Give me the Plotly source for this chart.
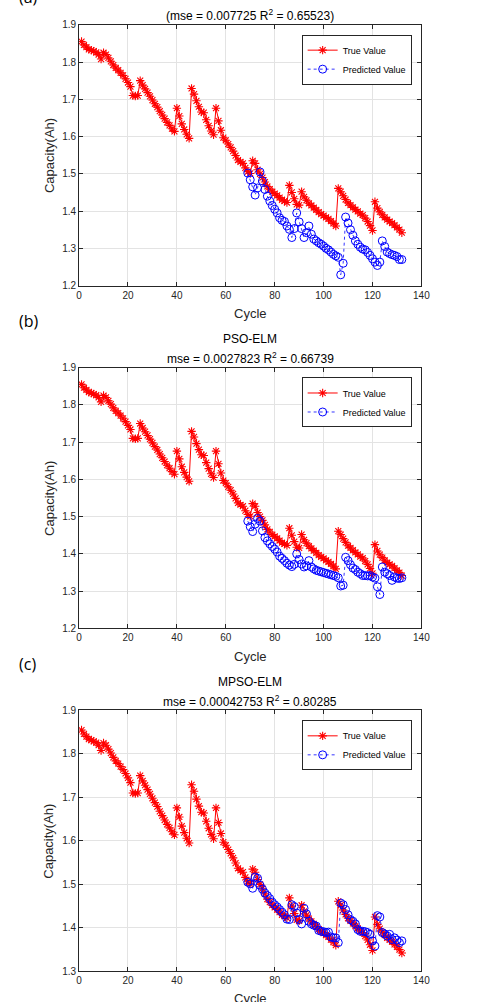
import plotly.graph_objects as go

cycles = list(range(1, 133))
true_capacity = [
    1.855, 1.846, 1.840, 1.834, 1.832, 1.829, 1.826, 1.820, 1.808, 1.825,
    1.820, 1.811, 1.802, 1.792, 1.784, 1.778, 1.771, 1.764, 1.755, 1.745,
    1.734, 1.710, 1.709, 1.710, 1.750, 1.738, 1.728, 1.718, 1.708, 1.698,
    1.688, 1.679, 1.668, 1.658, 1.648, 1.638, 1.630, 1.621, 1.614, 1.676,
    1.655, 1.634, 1.619, 1.606, 1.595, 1.729, 1.714, 1.696, 1.680, 1.666,
    1.664, 1.645, 1.629, 1.615, 1.605, 1.676, 1.642, 1.617, 1.597, 1.590,
    1.580, 1.571, 1.561, 1.549, 1.537, 1.532, 1.528, 1.516, 1.506, 1.501,
    1.535, 1.528, 1.511, 1.500, 1.490, 1.478, 1.466, 1.459, 1.452, 1.447,
    1.442, 1.436, 1.430, 1.427, 1.423, 1.469, 1.450, 1.433, 1.418, 1.416,
    1.452, 1.438, 1.429, 1.421, 1.415, 1.409, 1.403, 1.397, 1.392, 1.388,
    1.383, 1.379, 1.373, 1.367, 1.360, 1.461, 1.452, 1.441, 1.431, 1.422,
    1.416, 1.410, 1.404, 1.399, 1.393, 1.389, 1.381, 1.372, 1.361, 1.348,
    1.425, 1.408, 1.398, 1.390, 1.383, 1.377, 1.372, 1.368, 1.362, 1.356,
    1.350, 1.342,
]

pred_cycles = list(range(69, 133))
pred_elm = [
    1.502, 1.484, 1.465, 1.443, 1.462, 1.505, 1.481, 1.458, 1.440, 1.427,
    1.415, 1.405, 1.395, 1.382, 1.375, 1.372, 1.360, 1.351, 1.329, 1.353,
    1.395, 1.371, 1.353, 1.329, 1.342, 1.360, 1.338, 1.325, 1.320, 1.315,
    1.311, 1.306, 1.300, 1.296, 1.290, 1.284, 1.280, 1.276, 1.229, 1.260,
    1.384, 1.368, 1.350, 1.335, 1.320, 1.311, 1.303, 1.298, 1.296, 1.289,
    1.281, 1.272, 1.263, 1.254, 1.263, 1.320, 1.305, 1.290, 1.286, 1.283,
    1.281, 1.278, 1.270, 1.270,
]
pred_pso = [
    1.488, 1.473, 1.460, 1.480, 1.495, 1.488, 1.462, 1.444, 1.435, 1.427,
    1.420, 1.413, 1.405, 1.394, 1.388, 1.382, 1.375, 1.370, 1.366, 1.372,
    1.400, 1.385, 1.373, 1.365, 1.368, 1.382, 1.365, 1.360, 1.356, 1.354,
    1.352, 1.350, 1.348, 1.346, 1.344, 1.342, 1.340, 1.336, 1.314, 1.316,
    1.391, 1.382, 1.371, 1.362, 1.358, 1.351, 1.347, 1.342, 1.342, 1.341,
    1.342, 1.338, 1.335, 1.312, 1.291, 1.365, 1.351, 1.347, 1.342, 1.329,
    1.338, 1.335, 1.334, 1.336,
]
pred_mpso = [
    1.505, 1.501, 1.491, 1.517, 1.514, 1.498, 1.489, 1.480, 1.474, 1.467,
    1.459, 1.453, 1.448, 1.442, 1.436, 1.430, 1.420, 1.419, 1.453, 1.449,
    1.434, 1.419, 1.409, 1.445, 1.432, 1.415, 1.409, 1.406, 1.404, 1.394,
    1.392, 1.391, 1.389, 1.390, 1.379, 1.377, 1.377, 1.366, 1.457, 1.453,
    1.442, 1.430, 1.419, 1.415, 1.409, 1.396, 1.392, 1.392, 1.391, 1.389,
    1.385, 1.370, 1.358, 1.428, 1.425, 1.389, 1.386, 1.381, 1.385, 1.373,
    1.377, 1.372, 1.366, 1.370,
]

panel_labels = ["(a)", "(b)", "(c)"]
panel_titles = ["ELM", "PSO-ELM", "MPSO-ELM"]
panel_metrics = [
    "(mse = 0.007725 R<sup>2</sup> = 0.65523)",
    "mse = 0.0027823 R<sup>2</sup> = 0.66739",
    "mse = 0.00042753 R<sup>2</sup> = 0.80285",
]
x_ticks = [0, 20, 40, 60, 80, 100, 120, 140]
y_ranges = [(1.2, 1.9), (1.2, 1.9), (1.3, 1.9)]
preds = [pred_elm, pred_pso, pred_mpso]

W, H = 486, 1002
FONT = "Liberation Sans, Arial, Helvetica, sans-serif"
TXT = "#262626"

# pixel geometry of the three axes (top, bottom)
panels_px = [(19, 283), (366, 630), (713, 977)]
x_left, x_right = 78, 429


def py(p):
    return 1 - p / H


def px(p):
    return p / W


fig = go.Figure()
layout = dict(
    width=W, height=H,
    margin=dict(l=0, r=0, t=0, b=0),
    paper_bgcolor="white", plot_bgcolor="white",
    font=dict(family=FONT, color=TXT, size=10),
    annotations=[],
)

for i in range(3):
    sfx = "" if i == 0 else str(i + 1)
    xa, ya = "x" + sfx, "y" + sfx
    leg = "legend" + sfx
    fig.add_trace(go.Scatter(
        x=cycles, y=true_capacity, mode="lines+markers", name="True Value",
        xaxis=xa, yaxis=ya, legend=leg,
        line=dict(color="red", width=1),
        marker=dict(symbol="asterisk-open", size=7, color="red",
                    line=dict(color="red", width=1.1)),
    ))
    fig.add_trace(go.Scatter(
        x=pred_cycles, y=preds[i], mode="lines+markers", name="Predicted Value",
        xaxis=xa, yaxis=ya, legend=leg,
        line=dict(color="blue", width=0.8, dash="dot"),
        marker=dict(symbol="circle-open", size=8, color="blue",
                    line=dict(color="blue", width=1)),
    ))
    top, bot = panels_px[i]
    layout["xaxis" + sfx] = dict(
        domain=[px(x_left), px(x_right)], anchor=ya, range=[0, 140],
        tickvals=x_ticks, showgrid=True, gridcolor="#e3e3e3", gridwidth=1,
        zeroline=False, showline=True, linecolor=TXT, linewidth=1,
        mirror="ticks", ticks="inside", ticklen=4, tickcolor=TXT,
        tickfont=dict(size=10, color=TXT, family=FONT),
    )
    lo, hi = y_ranges[i]
    yt = [round(lo + 0.1 * k, 1) for k in range(int(round((hi - lo) / 0.1)) + 1)]
    layout["yaxis" + sfx] = dict(
        domain=[py(bot), py(top)], anchor=xa, range=[lo, hi],
        tickvals=yt, ticktext=[f"{v:.1f}" for v in yt],
        showgrid=True, gridcolor="#e3e3e3", gridwidth=1,
        zeroline=False, showline=True, linecolor=TXT, linewidth=1,
        mirror="ticks", ticks="inside", ticklen=4, tickcolor=TXT,
        tickfont=dict(size=10, color=TXT, family=FONT),
    )
    layout[leg] = dict(
        x=px(419), y=py(top + 10), xanchor="right", yanchor="top",
        bgcolor="white", bordercolor=TXT, borderwidth=1,
        font=dict(size=9, color="black", family=FONT),
        tracegroupgap=0, itemwidth=30,
    )
    mid = px((x_left + x_right) / 2)
    ann = layout["annotations"]
    ann.append(dict(text=panel_metrics[i], x=mid, y=py(top - 10), xref="paper", yref="paper",
                    showarrow=False, font=dict(size=12, color="black", family=FONT),
                    xanchor="center", yanchor="middle"))
    if i > 0:
        title_y, label_y = top - 29, top - 47
    else:
        title_y, label_y = -14, -9
    ann.append(dict(text=panel_titles[i], x=mid, y=py(title_y), xref="paper", yref="paper",
                    showarrow=False, font=dict(size=12, color="black", family=FONT),
                    xanchor="center", yanchor="middle"))
    ann.append(dict(text=panel_labels[i], x=px(14), y=py(label_y), xref="paper", yref="paper",
                    showarrow=False, font=dict(size=16, color="black", family="Open Sans, sans-serif"),
                    xanchor="left", yanchor="middle"))
    ann.append(dict(text="Cycle", x=mid, y=py(bot + 28), xref="paper", yref="paper",
                    showarrow=False, font=dict(size=13, color=TXT, family=FONT),
                    xanchor="center", yanchor="middle"))
    ann.append(dict(text="Capacity(Ah)", x=px(47), y=py((top + bot) / 2), xref="paper", yref="paper",
                    showarrow=False, textangle=-90, font=dict(size=13, color=TXT, family=FONT),
                    xanchor="center", yanchor="middle"))

fig.update_layout(**layout)
fig.write_html("out.html")
